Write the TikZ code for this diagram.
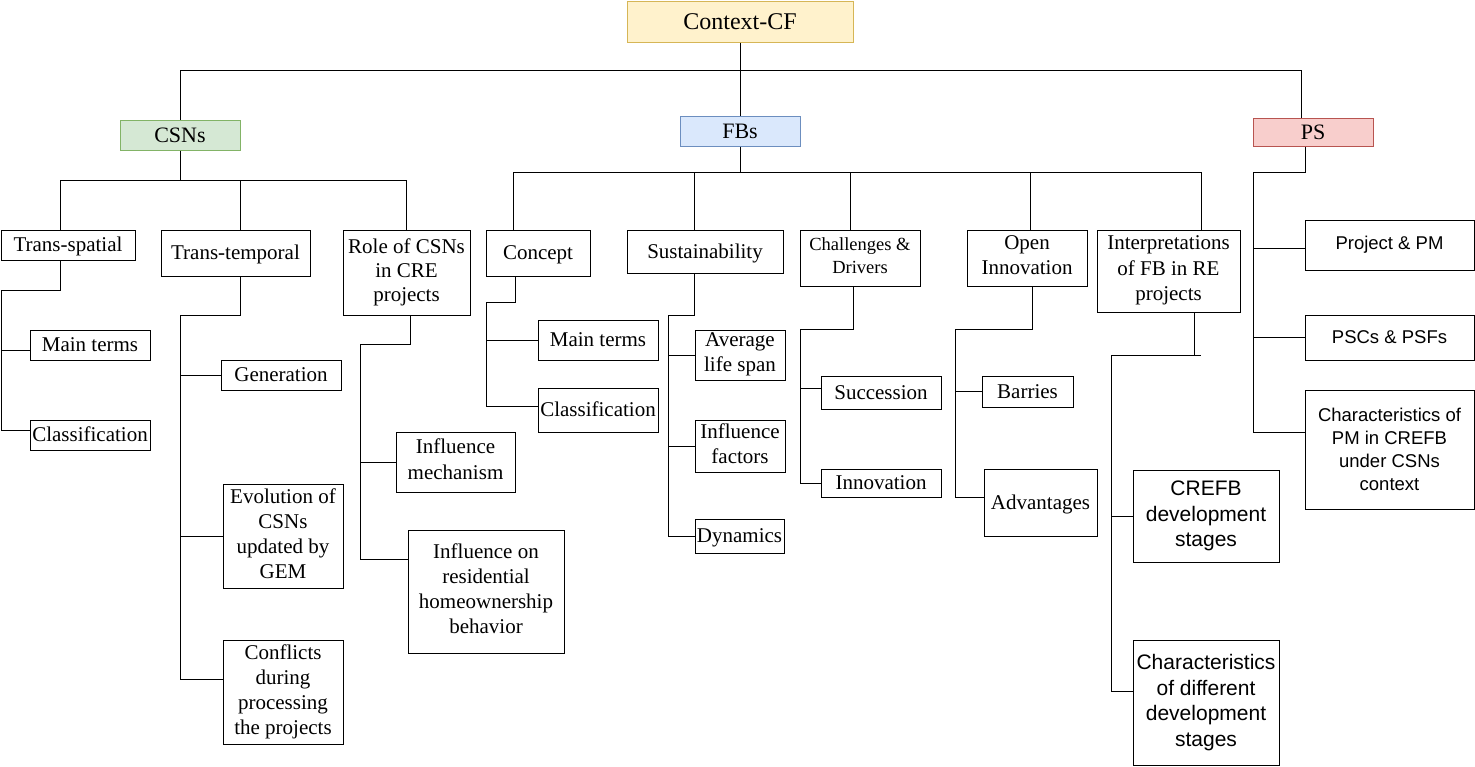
\documentclass[tikz,border=0pt]{standalone}
\usepackage{fontspec}
\setmainfont{Liberation Serif}
\setsansfont{Liberation Sans}
\definecolor{ctxfill}{HTML}{FFF2CC}\definecolor{ctxdraw}{HTML}{D6B656}
\definecolor{csnfill}{HTML}{D5E8D4}\definecolor{csndraw}{HTML}{82B366}
\definecolor{fbfill}{HTML}{DAE8FC}\definecolor{fbdraw}{HTML}{6C8EBF}
\definecolor{psfill}{HTML}{F8CECC}\definecolor{psdraw}{HTML}{B85450}
\tikzset{
  basebox/.style={draw, line width=1pt, inner sep=1pt, align=center},
  box/.style={basebox, font=\fontsize{21}{25}\selectfont,
    execute at begin node={\rule[-0.24em]{0pt}{1.14em}},
    execute at end node={\rule[-0.24em]{0pt}{0.24em}}},
  sbox/.style={basebox, font=\sffamily\fontsize{21}{25.5}\selectfont},
  pbox/.style={basebox, font=\sffamily\fontsize{18.5}{23}\selectfont},
  sz/.style 2 args={minimum width=#1pt, minimum height=#2pt},
  conn/.style={line width=1pt, draw=black}
}
\begin{document}
\begin{tikzpicture}[x=1pt,y=-1pt]
\useasboundingbox (0,0) rectangle (1475,766);
% top level
\node[box, sz={226}{41}, fill=ctxfill, draw=ctxdraw, font=\fontsize{24}{28}\selectfont] (ctx) at (740,21.5) {Context-CF};
\node[box, sz={120}{30}, fill=csnfill, draw=csndraw, font=\fontsize{22}{26}\selectfont] (csns) at (180,135) {CSNs};
\node[box, sz={120}{30}, fill=fbfill, draw=fbdraw, font=\fontsize{22}{26}\selectfont] (fbs) at (740,131) {FBs};
\node[box, sz={120}{28}, fill=psfill, draw=psdraw, font=\fontsize{22}{26}\selectfont] (ps) at (1313,132) {PS};
% CSNs branch
\node[box, sz={134}{30}] (ts) at (68,245) {Trans-spatial};
\node[box, sz={149}{46}] (tt) at (235.5,253) {Trans-temporal};
\node[box, sz={127}{85}, font=\fontsize{21}{24}\selectfont] (role) at (406.5,272.5) {Role of CSNs\\in CRE\\projects};
\node[box, sz={120}{30}] (mta) at (90,345) {Main terms};
\node[box, sz={120}{30}] (cla) at (90,435) {Classification};
\node[box, sz={120}{30}] (gen) at (281,375) {Generation};
\node[box, sz={120}{104}] (evo) at (283,536) {Evolution of\\CSNs\\updated by\\GEM};
\node[box, sz={120}{104}] (con) at (283,692) {Conflicts\\during\\processing\\the projects};
\node[box, sz={119}{60}, font=\fontsize{21}{26}\selectfont] (im) at (455.5,462) {Influence\\mechanism};
\node[box, sz={156}{123}] (ior) at (486,591.5) {Influence on\\residential\\homeownership\\behavior};
% FBs branch
\node[box, sz={104}{46}] (concept) at (538,253) {Concept};
\node[box, sz={156}{43}] (sus) at (705,251.5) {Sustainability};
\node[box, sz={120}{56}, font=\fontsize{18.5}{23}\selectfont] (chal) at (860,258) {Challenges \&\\Drivers};
\node[box, sz={120}{56}] (oi) at (1027,258) {Open\\Innovation};
\node[box, sz={143}{82}, font=\fontsize{21}{25.5}\selectfont] (interp) at (1168.5,271) {Interpretations\\of FB in RE\\projects};
\node[box, sz={120}{40}] (mtb) at (598,340) {Main terms};
\node[box, sz={120}{44}] (clb) at (598,410) {Classification};
\node[box, sz={90}{50}] (als) at (740,355) {Average\\life span};
\node[box, sz={90}{52}] (inf) at (740,446) {Influence\\factors};
\node[box, sz={89}{34}] (dyn) at (739.5,536) {Dynamics};
\node[box, sz={120}{33}] (suc) at (881,392.5) {Succession};
\node[box, sz={120}{28}] (inn) at (881,483) {Innovation};
\node[box, sz={91}{31}] (bar) at (1027.5,391.5) {Barries};
\node[box, sz={113}{67}] (adv) at (1040.5,502.5) {Advantages};
\node[sbox, sz={146}{92}] (crefb) at (1206,516) {CREFB\\development\\stages};
\node[sbox, sz={146}{125}] (cdds) at (1206,702.5) {Characteristics\\of different\\development\\stages};
% PS branch
\node[pbox, sz={169}{50}] (ppm) at (1389.5,245) {Project \& PM};
\node[pbox, sz={169}{45}] (psc) at (1389.5,337.5) {PSCs \& PSFs};
\node[pbox, sz={169}{119}] (cpm) at (1389.5,449.5) {Characteristics of\\PM in CREFB\\under CSNs\\context};
% bus coordinates
\coordinate (topbar) at (740,70);
\coordinate (csnbar) at (180,180);
\coordinate (tsbus) at (1,290);
\coordinate (ttbus) at (180,315);
\coordinate (rolebus) at (360,344);
\coordinate (fbbar) at (740,172);
\coordinate (conbus) at (486,302);
\coordinate (susbus) at (668,315);
\coordinate (chalbus) at (800,329);
\coordinate (oibus) at (955,329);
\coordinate (intbus) at (1111,355);
\coordinate (psbus) at (1253,172);
% top connectors
\draw[conn] (ctx.south) -- (topbar);
\draw[conn] (topbar) -| (csns.north);
\draw[conn] (topbar) -| (fbs.north);
\draw[conn] (topbar) -| ([xshift=-12pt]ps.north);
% CSNs
\draw[conn] (csns.south) -- (csnbar);
\draw[conn] (csnbar) -| ([xshift=-8pt]ts.north);
\draw[conn] (csnbar) -| ([xshift=4.5pt]tt.north);
\draw[conn] (csnbar) -| (role.north);
\draw[conn] ([xshift=-8pt]ts.south) |- (tsbus);
\draw[conn] (tsbus) |- ([yshift=-5pt]mta.west);
\draw[conn] (tsbus) |- ([yshift=5pt]cla.west);
\draw[conn] ([xshift=4.5pt]tt.south) |- (ttbus);
\draw[conn] (ttbus) |- (gen.west);
\draw[conn] (ttbus) |- (evo.west);
\draw[conn] (ttbus) |- ([yshift=13pt]con.west);
\draw[conn] ([xshift=3.5pt]role.south) |- (rolebus);
\draw[conn] (rolebus) |- (im.west);
\draw[conn] (rolebus) |- ([yshift=32.5pt]ior.west);
% FBs
\draw[conn] (fbs.south) -- (fbbar);
\draw[conn] (fbbar) -| ([xshift=-25pt]concept.north);
\draw[conn] (fbbar) -| ([xshift=-11pt]sus.north);
\draw[conn] (fbbar) -| ([xshift=-10pt]chal.north);
\draw[conn] (fbbar) -| ([xshift=3pt]oi.north);
\draw[conn] (fbbar) -| ([xshift=32.5pt]interp.north);
\draw[conn] ([xshift=-23pt]concept.south) |- (conbus);
\draw[conn] (conbus) |- (mtb.west);
\draw[conn] (conbus) |- ([yshift=4pt]clb.west);
\draw[conn] ([xshift=-11pt]sus.south) |- (susbus);
\draw[conn] (susbus) |- (als.west);
\draw[conn] (susbus) |- (inf.west);
\draw[conn] (susbus) |- (dyn.west);
\draw[conn] ([xshift=-7pt]chal.south) |- (chalbus);
\draw[conn] (chalbus) |- ([yshift=4.5pt]suc.west);
\draw[conn] (chalbus) |- (inn.west);
\draw[conn] ([xshift=5pt]oi.south) |- (oibus);
\draw[conn] (oibus) |- (bar.west);
\draw[conn] (oibus) |- ([yshift=5.5pt]adv.west);
\draw[conn] ([xshift=25.5pt]interp.south) |- (intbus);
\draw[conn] (intbus) -- ([xshift=32.5pt]interp.south |- intbus);
\draw[conn] (intbus) |- (crefb.west);
\draw[conn] (intbus) |- ([yshift=11.5pt]cdds.west);
% PS
\draw[conn] ([xshift=-8pt]ps.south) |- (psbus);
\draw[conn] (psbus) |- ([yshift=-3pt]ppm.west);
\draw[conn] (psbus) |- (psc.west);
\draw[conn] (psbus) |- ([yshift=17.5pt]cpm.west);
\end{tikzpicture}
\end{document}
